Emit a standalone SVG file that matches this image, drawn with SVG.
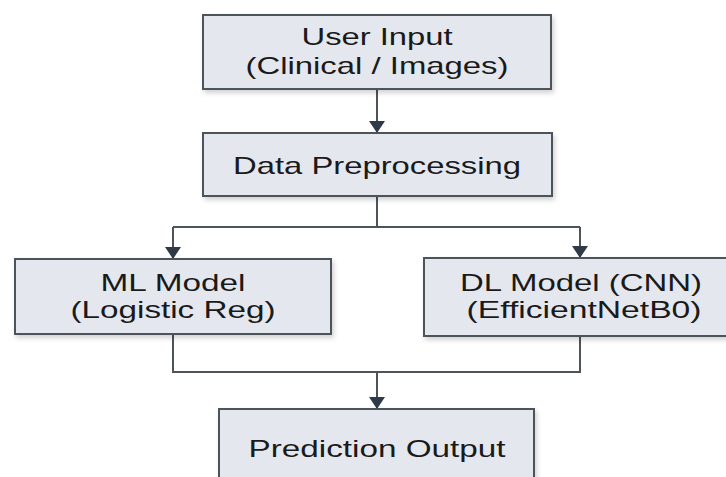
<svg xmlns="http://www.w3.org/2000/svg" width="726" height="477" viewBox="0 0 726 477">
<style>
.box{fill:#e4e8ee;stroke:#4e535a;stroke-width:2;filter:url(#sh)}
.t{font-family:"Liberation Sans",Arial,sans-serif;font-size:24px;fill:#1a1a1a;text-anchor:middle}
.c{fill:none;stroke:#4e535a;stroke-width:2}
</style>
<defs>
<filter id="sh" x="-10%" y="-20%" width="130%" height="150%">
<feDropShadow dx="2" dy="3" stdDeviation="2.5" flood-color="#000" flood-opacity="0.18"/>
</filter>
<marker id="ah" markerWidth="12" markerHeight="16" refX="12" refY="8" orient="auto" markerUnits="userSpaceOnUse" viewBox="0 0 12 16">
<path d="M0,0 L12,8 L0,16 Z" fill="#2f3a48"/>
</marker>
</defs>
<rect width="726" height="477" fill="#fff"/>
<g id="connectors">
<path class="c" d="M377,89 V133" marker-end="url(#ah)"/>
<path class="c" d="M377,196 V227"/>
<path class="c" d="M173,227 H580"/>
<path class="c" d="M173,227 V259" marker-end="url(#ah)"/>
<path class="c" d="M580,227 V258" marker-end="url(#ah)"/>
<path class="c" d="M173,334 V372 H580 V336"/>
<path class="c" d="M377,372 V409" marker-end="url(#ah)"/>
</g>
<g id="user-input">
<rect class="box" x="203" y="15" width="348" height="74"/>
<text class="t" x="377" y="45" textLength="151" lengthAdjust="spacingAndGlyphs">User Input</text>
<text class="t" x="377" y="74" textLength="263" lengthAdjust="spacingAndGlyphs">(Clinical / Images)</text>
</g>
<g id="data-preprocessing">
<rect class="box" x="203" y="133" width="349" height="63"/>
<text class="t" x="377" y="174" textLength="288" lengthAdjust="spacingAndGlyphs">Data Preprocessing</text>
</g>
<g id="ml-model">
<rect class="box" x="15" y="259" width="316" height="75"/>
<text class="t" x="173" y="291" textLength="145" lengthAdjust="spacingAndGlyphs">ML Model</text>
<text class="t" x="173" y="318" textLength="205" lengthAdjust="spacingAndGlyphs">(Logistic Reg)</text>
</g>
<g id="dl-model">
<rect class="box" x="424" y="258" width="310" height="78"/>
<text class="t" x="581" y="291" textLength="242" lengthAdjust="spacingAndGlyphs">DL Model (CNN)</text>
<text class="t" x="584" y="318" textLength="235" lengthAdjust="spacingAndGlyphs">(EfficientNetB0)</text>
</g>
<g id="prediction-output">
<rect class="box" x="219" y="409" width="315" height="80"/>
<text class="t" x="377" y="457" textLength="257" lengthAdjust="spacingAndGlyphs">Prediction Output</text>
</g>
</svg>
